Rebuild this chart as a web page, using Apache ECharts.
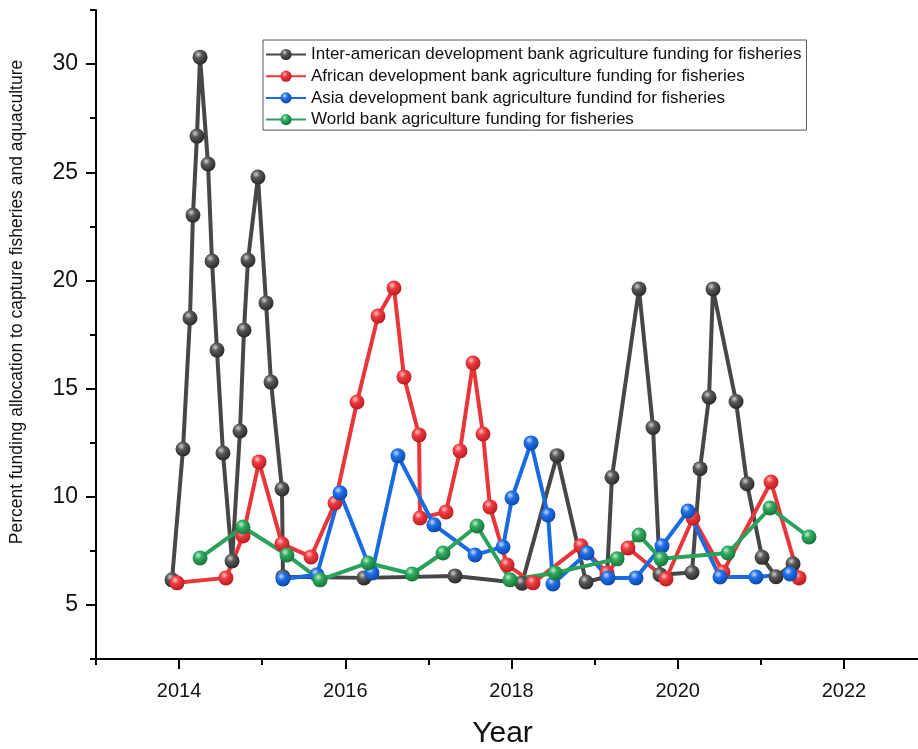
<!DOCTYPE html>
<html>
<head>
<meta charset="utf-8">
<script src="https://cdn.jsdelivr.net/npm/echarts@6/dist/echarts.min.js"></script>
<style>
html,body{margin:0;padding:0;background:#fff;}
#chart{width:918px;height:749px;}
</style>
</head>
<body>
<div id="chart"></div>
<script>
// ---- data (year, percent) ----
const seriesNames = [
  'Inter-american development bank agriculture funding for fisheries',
  'African development bank agriculture funding for fisheries',
  'Asia development bank agriculture fundind for fisheries',
  'World bank agriculture funding for fisheries'
];
const interAmerican = [
  [2013.915,6.16],[2014.047,12.21],[2014.131,18.26],[2014.167,23.02],[2014.215,26.67],
  [2014.252,30.32],[2014.348,25.38],[2014.396,20.90],[2014.456,16.78],[2014.528,12.02],
  [2014.637,7.03],[2014.733,13.04],[2014.781,17.71],[2014.829,20.94],[2014.949,24.78],
  [2015.046,18.96],[2015.106,15.30],[2015.238,10.36],[2015.250,6.30],[2016.225,6.25],
  [2017.320,6.34],[2018.126,6.00],[2018.548,11.90],[2018.897,6.06],[2019.149,6.30],
  [2019.209,10.90],[2019.534,19.60],[2019.703,13.20],[2019.787,6.40],[2020.172,6.50],
  [2020.269,11.30],[2020.377,14.60],[2020.425,19.60],[2020.702,14.40],[2020.834,10.60],
  [2021.015,7.20],[2021.183,6.30],[2021.388,6.90]
];
const african = [
  [2013.975,6.02],[2014.564,6.25],[2014.769,8.19],[2014.962,11.61],[2015.238,7.82],
  [2015.587,7.22],[2015.876,9.71],[2016.141,14.38],[2016.394,18.35],[2016.586,19.65],
  [2016.706,15.54],[2016.887,12.86],[2016.899,9.02],[2017.212,9.30],[2017.380,12.12],
  [2017.537,16.18],[2017.657,12.90],[2017.741,9.53],[2017.946,6.85],[2018.259,6.02],
  [2018.836,7.73],[2019.149,6.48],[2019.402,7.63],[2019.859,6.20],[2020.184,9.02],
  [2020.545,6.52],[2021.123,10.68],[2021.460,6.25]
];
const asia = [
  [2015.250,6.20],[2015.659,6.39],[2015.936,10.18],[2016.321,6.48],[2016.634,11.89],
  [2017.067,8.70],[2017.561,7.31],[2017.898,7.68],[2018.006,9.94],[2018.235,12.49],
  [2018.439,9.16],[2018.499,5.97],[2018.909,7.40],[2019.161,6.25],[2019.498,6.25],
  [2019.811,7.73],[2020.124,9.34],[2020.509,6.29],[2020.942,6.29],[2021.351,6.43]
];
const worldBank = [
  [2014.252,7.17],[2014.769,8.60],[2015.298,7.31],[2015.696,6.16],[2016.273,6.94],
  [2016.803,6.43],[2017.176,7.40],[2017.585,8.65],[2017.982,6.16],[2018.523,6.48],
  [2019.270,7.13],[2019.534,8.23],[2019.799,7.13],[2020.605,7.40],[2021.111,9.48],
  [2021.580,8.14]
];
const xMajorTicks = [2014, 2016, 2018, 2020, 2022];
const xMinorTicks = [2013, 2015, 2017, 2019, 2021, 2023];
const yMajorTicks = [5, 10, 15, 20, 25, 30];
const yMinorTicks = [2.5, 7.5, 12.5, 17.5, 22.5, 27.5, 32.5];

const FONT = '"Liberation Sans", Arial, sans-serif';

function ball(light, mid, dark) {
  return {
    type: 'radial', x: 0.38, y: 0.32, r: 0.72,
    colorStops: [
      {offset: 0, color: light},
      {offset: 0.35, color: mid},
      {offset: 1, color: dark}
    ]
  };
}
const styles = [
  {line: '#474747', sym: ball('#d0d0d0', '#585858', '#262626')},
  {line: '#e8363b', sym: ball('#ffc4c4', '#ef3b40', '#b51b20')},
  {line: '#1b6be0', sym: ball('#c4dcff', '#2070e8', '#0b46a6')},
  {line: '#2ba25b', sym: ball('#c6ecd2', '#2fab5f', '#157138')}
];
const dataSets = [interAmerican, african, asia, worldBank];

const chart = echarts.init(document.getElementById('chart'));
const axisLineStyle = {color: '#000', width: 2};

chart.setOption({
  backgroundColor: '#fff',
  animation: false,
  grid: {left: 96, right: -9, top: 10, bottom: 90, containLabel: false, outerBoundsMode: 'none'},
  legend: {
    orient: 'vertical',
    left: 263, top: 40,
    padding: [6, 5, 2, 2],
    itemWidth: 40, itemHeight: 14, itemGap: 4.7,
    borderColor: '#555', borderWidth: 1,
    textStyle: {fontFamily: FONT, fontSize: 17, lineHeight: 17, color: '#111'},
    data: seriesNames
  },
  graphic: [{
    type: 'text',
    x: 17, y: 302,
    rotation: Math.PI / 2,
    style: {
      text: 'Percent funding allocation to capture fisheries and aquaculture',
      fontFamily: FONT, fontSize: 17.5, fill: '#111',
      textAlign: 'center', textVerticalAlign: 'middle'
    }
  }],
  xAxis: [{
    type: 'value', min: 2013, max: 2023, position: 'bottom',
    axisLine: {lineStyle: axisLineStyle},
    axisTick: {customValues: xMajorTicks, length: 10, lineStyle: axisLineStyle},
    axisLabel: {customValues: xMajorTicks, formatter: v => String(v), fontFamily: FONT, fontSize: 20, color: '#111', margin: 22},
    splitLine: {show: false},
    name: 'Year', nameLocation: 'middle', nameGap: 60,
    nameTextStyle: {fontFamily: FONT, fontSize: 30, color: '#111', padding: [0, 18, 0, 0]}
  }, {
    type: 'value', min: 2013, max: 2023, position: 'bottom',
    axisLine: {show: false},
    axisTick: {customValues: xMinorTicks, length: 6, lineStyle: axisLineStyle},
    axisLabel: {show: false},
    splitLine: {show: false}
  }],
  yAxis: [{
    type: 'value', min: 2.5, max: 32.5, position: 'left',
    axisLine: {show: true, lineStyle: axisLineStyle},
    axisTick: {show: true, customValues: yMajorTicks, length: 10, lineStyle: axisLineStyle},
    axisLabel: {customValues: yMajorTicks, fontFamily: FONT, fontSize: 23, color: '#111', margin: 18},
    splitLine: {show: false}
  }, {
    type: 'value', min: 2.5, max: 32.5, position: 'left',
    axisLine: {show: false},
    axisTick: {show: true, customValues: yMinorTicks, length: 6, lineStyle: axisLineStyle},
    axisLabel: {show: false},
    splitLine: {show: false}
  }],
  series: dataSets.map((d, i) => ({
    name: seriesNames[i],
    type: 'line',
    xAxisIndex: 0, yAxisIndex: 0,
    data: d,
    symbol: 'circle',
    symbolSize: 15,
    showAllSymbol: true,
    lineStyle: {color: styles[i].line, width: 4},
    itemStyle: {color: styles[i].sym, borderWidth: 0},
    emphasis: {disabled: true}
  }))
});
</script>
</body>
</html>
